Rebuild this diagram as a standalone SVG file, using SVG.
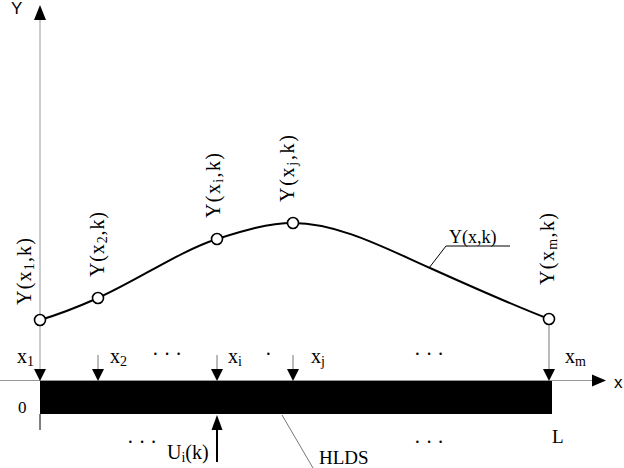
<svg xmlns="http://www.w3.org/2000/svg" width="624" height="468" viewBox="0 0 624 468">
<style>
.ax{stroke:#999;stroke-width:1;fill:none}
.thin{stroke:#777;stroke-width:1;fill:none}
.blk{stroke:#000;stroke-width:1;fill:none}
.curve{stroke:#000;stroke-width:2;fill:none}
.pt{fill:#fff;stroke:#000;stroke-width:1.6}
.ah{fill:#000}
.sans{font-family:"Liberation Sans",Arial,sans-serif;font-size:17px;fill:#000}
</style>
<defs>
<polygon id="down" points="0,0 -6,-12 6,-12"/>
</defs>
<g id="axes">
<line class="ax" x1="40" y1="18" x2="40" y2="380"/>
<polygon class="ah" points="40,5 34,20 46,20"/>
<line class="blk" x1="40" y1="414" x2="40" y2="430"/>
<line class="ax" x1="0" y1="380.5" x2="594" y2="380.5"/>
<polygon class="ah" points="606,380.5 592,374.5 592,386.5"/>
<text class="sans" x="11" y="14">Y</text>
<text class="sans" x="614" y="388">x</text>
</g>
<g font-family="'Liberation Serif', 'Times New Roman', serif" fill="#000">
<g id="bar">
<rect x="40" y="381" width="512" height="33" fill="#000"/>
<text x="18" y="413" font-size="17">0</text>
<text x="552" y="443" font-size="19">L</text>
</g>
<g id="connectors">
<path class="curve" d="M40,320 C60,314 80,306 98,298 C138,280 180,251 217,239 C242,231 268,223 293,223 C338,223 385,248 430,268 C470,286 515,306 549,319"/>
<line class="thin" x1="549" y1="325" x2="549" y2="369"/>
<line class="thin" x1="98" y1="355" x2="98" y2="369"/>
<line class="thin" x1="217" y1="355" x2="217" y2="369"/>
<line class="thin" x1="293" y1="355" x2="293" y2="369"/>
<use href="#down" x="40" y="381"/>
<use href="#down" x="98" y="381"/>
<use href="#down" x="217" y="381"/>
<use href="#down" x="293" y="381"/>
<use href="#down" x="549" y="381"/>
<line x1="217" y1="462" x2="217" y2="428" stroke="#000" stroke-width="2"/>
<polygon class="ah" points="217,415 211.5,430 222.5,430"/>
<polyline class="blk" points="429,268 446,246 510,246"/>
<line class="thin" x1="282" y1="415" x2="313" y2="468"/>
</g>
<g id="points">
<circle class="pt" cx="40" cy="320" r="5.5"/>
<circle class="pt" cx="98" cy="298" r="5.5"/>
<circle class="pt" cx="217" cy="239" r="5.5"/>
<circle class="pt" cx="293" cy="223" r="5.5"/>
<circle class="pt" cx="549" cy="319" r="5.5"/>
</g>
<g id="point-labels" font-size="20">
<text transform="translate(31,305) rotate(-90)" textLength="67" lengthAdjust="spacing">Y(x<tspan font-size="14" dy="3">1</tspan><tspan dy="-3">,k)</tspan></text>
<text transform="translate(104,277) rotate(-90)" textLength="65" lengthAdjust="spacing">Y(x<tspan font-size="14" dy="3">2</tspan><tspan dy="-3">,k)</tspan></text>
<text transform="translate(220,218) rotate(-90)" textLength="65" lengthAdjust="spacing">Y(x<tspan font-size="14" dy="3">i</tspan><tspan dy="-3">,k)</tspan></text>
<text transform="translate(294,202) rotate(-90)" textLength="67" lengthAdjust="spacing">Y(x<tspan font-size="14" dy="3">j</tspan><tspan dy="-3">,k)</tspan></text>
<text transform="translate(554,285) rotate(-90)" textLength="72" lengthAdjust="spacing">Y(x<tspan font-size="14" dy="3">m</tspan><tspan dy="-3">,k)</tspan></text>
<text x="449" y="243" font-size="18">Y(x,k)</text>
</g>
<g id="x-labels" font-size="20">
<text x="17" y="363">x<tspan font-size="14" dy="3">1</tspan></text>
<text x="110" y="363">x<tspan font-size="14" dy="3">2</tspan></text>
<text x="228" y="363">x<tspan font-size="14" dy="3">i</tspan></text>
<text x="311" y="363">x<tspan font-size="14" dy="3">j</tspan></text>
<text x="565" y="363">x<tspan font-size="14" dy="3">m</tspan></text>
<text x="152" y="361">· · ·</text>
<text x="265" y="361">·</text>
<text x="414" y="361">· · ·</text>
<text x="127" y="449">· · ·</text>
<text x="414" y="449">· · ·</text>
</g>
<g id="input">
<text x="167" y="459" font-size="20">U<tspan font-size="14" dy="3">i</tspan><tspan dy="-3">(k)</tspan></text>
</g>
<g id="hlds">
<text x="319" y="464" font-size="19">HLDS</text>
</g>
</g>
</svg>
